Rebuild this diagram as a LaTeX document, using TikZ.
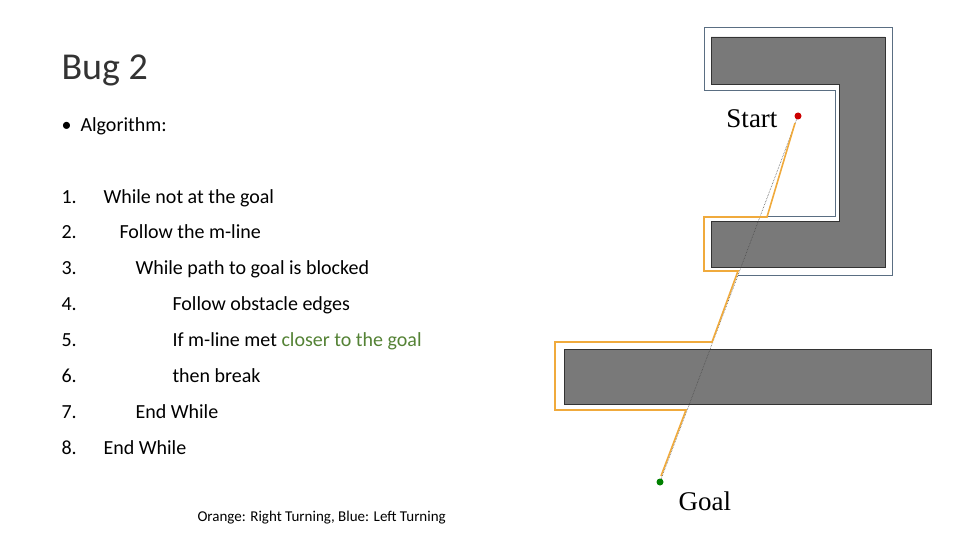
\documentclass[tikz,border=0pt]{standalone}
\usepackage{fontspec}
\setmainfont{Carlito}
\newfontfamily\timesfont{Liberation Serif}
\definecolor{greenword}{RGB}{84,130,53}
\definecolor{pathorange}{RGB}{240,170,60}
\definecolor{outlineblue}{RGB}{90,110,130}
\tikzset{
  obstacle/.style = {fill=gray!95!black, draw=black!80, line width=0.8pt},
  rightturn/.style = {draw=pathorange, line width=1.6pt},
  leftturn/.style = {draw=outlineblue, line width=0.7pt},
  algostep/.style = {anchor=base west, font=\fontsize{20}{24}\selectfont}
}
\begin{document}
\begin{tikzpicture}[x=1pt,y=-1pt]
  \useasboundingbox (0,0) rectangle (960,540);
  % title and list
  \node[anchor=base west, font=\fontsize{38}{44}\selectfont, text=black!80] (title) at (58,80) {Bug 2};
  \node[algostep] (algo) at (58,132) {\textbullet\ \ Algorithm:};
  \foreach \n/\ind/\txt [count=\i from 0] in {1/100/While not at the goal,
      2/116/Follow the m-line, 3/132/While path to goal is blocked,
      4/169/Follow obstacle edges,
      5/169/{If m-line met \textcolor{greenword}{closer to the goal}},
      6/169/then break, 7/132/End While, 8/100/End While} {
    \node[algostep] (num\n) at (58,203+35.9*\i) {\n.};
    \node[algostep] (line\n) at (\ind,203+35.9*\i) {\txt};
  }
  \node[anchor=base west, font=\fontsize{15}{18}\selectfont] (caption) at (194,521) {Orange: Right Turning, Blue: Left Turning};
  % obstacles
  \draw[obstacle] (711,37) -- (885,37) -- (885,267) -- (711,267) -- (711,221) -- (839,221) -- (839,84) -- (711,84) -- cycle;
  \draw[obstacle] (564,349) rectangle (931,404);
  % left turning outline
  \draw[leftturn] (767,216) -- (835,216) -- (835,90) -- (704,90) -- (704,27) -- (892,27) -- (892,275) -- (738,275);
  % start and goal
  \coordinate (start) at (798,116);
  \coordinate (goal) at (660,482);
  \draw[black!70, densely dotted, line width=0.6pt] (start) -- (goal);
  % right turning path
  \draw[rightturn] (795,123) -- (767,217) -- (704,217) -- (704,271) -- (738,271) -- (712,342) -- (555,342) -- (555,410) -- (686,410) -- (661,476);
  \fill[red!80!black] (start) circle (3.5);
  \fill[green!50!black] (goal) circle (3.5);
  \node[anchor=base east, font=\timesfont\fontsize{27}{30}\selectfont] (startlabel) at (781,128) {Start};
  \node[anchor=base west, font=\timesfont\fontsize{27}{30}\selectfont] (goallabel) at (675,510) {Goal};
\end{tikzpicture}
\end{document}
